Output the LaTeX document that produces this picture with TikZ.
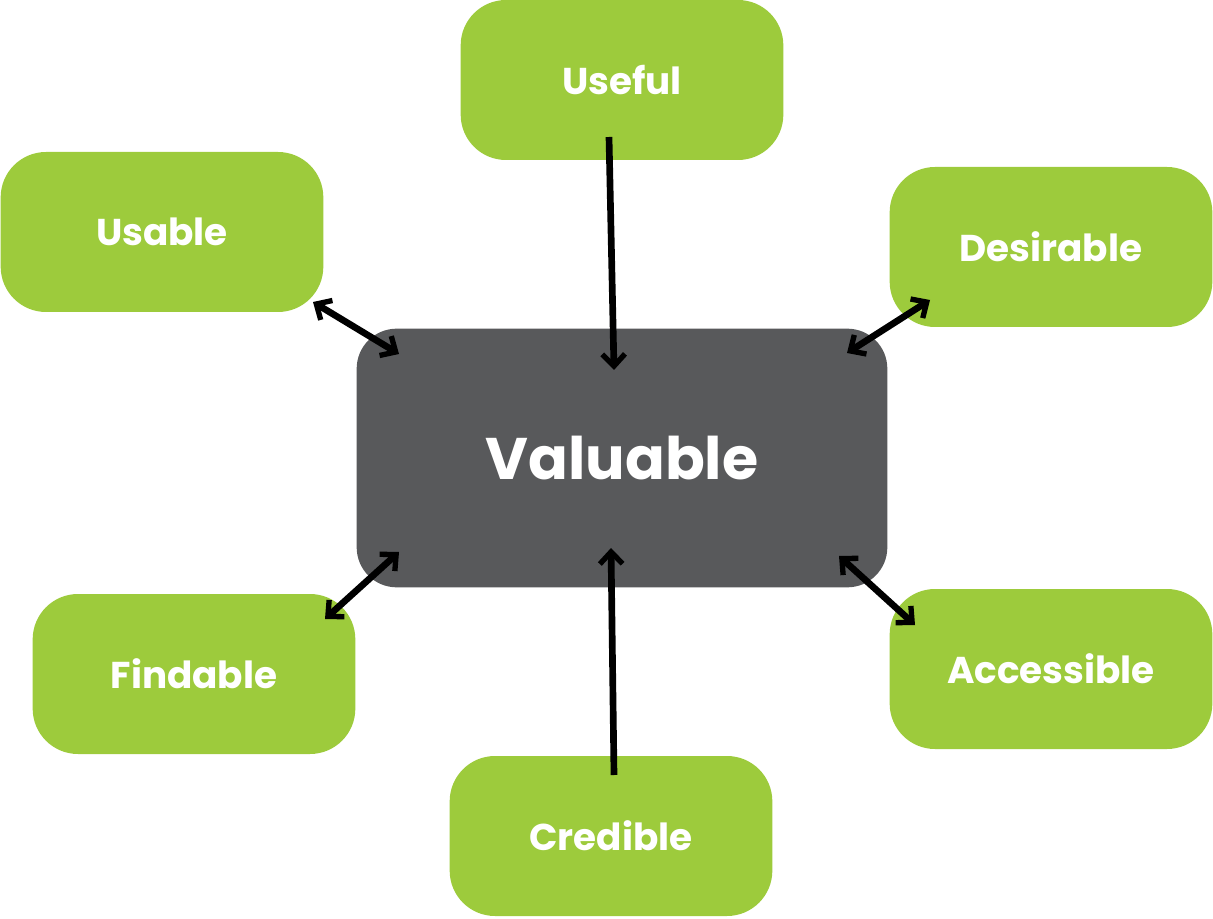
\documentclass[tikz,border=0pt]{standalone}
\usepackage{fontspec}
\setmainfont{Poppins}
\usetikzlibrary{arrows.meta}
\definecolor{leaf}{HTML}{9DCB3C}
\definecolor{slate}{HTML}{58595B}
\tikzset{
  gbox/.style={fill=leaf, rounded corners=34pt, minimum width=242pt, minimum height=120pt, text=white, font=\bfseries\fontsize{28}{32}\selectfont, inner sep=0pt},
  vbox/.style={fill=slate, rounded corners=30pt, minimum width=398pt, minimum height=194pt, text=white, font=\bfseries\fontsize{44}{50}\selectfont, inner sep=0pt},
  conn/.style={line width=5pt, black, -{Straight Barb[length=9pt,width=17pt,line width=4pt]}},
  dconn/.style={conn, {Straight Barb[length=9pt,width=17pt,line width=4pt]}-{Straight Barb[length=9pt,width=17pt,line width=4pt]}}
}
\begin{document}
\begin{tikzpicture}[x=0.75pt,y=-0.75pt]
\useasboundingbox (0,0) rectangle (1213,919);
\node[gbox] (useful) at (622,80) {Useful};
\node[gbox] (usable) at (162,232) {Usable};
\node[gbox] (desirable) at (1051,247) {Desirable};
\node[vbox] (valuable) at (622,458) {Valuable};
\node[gbox] (findable) at (194,674) {Findable};
\node[gbox] (accessible) at (1051,669) {Accessible};
\node[gbox] (credible) at (611,836) {Credible};
\coordinate (u1) at (609,137); \coordinate (u2) at (614,370);
\coordinate (c1) at (614,775); \coordinate (c2) at (611,548);
\coordinate (a1) at (313,302); \coordinate (a2) at (399,354);
\coordinate (d1) at (930,300); \coordinate (d2) at (847,353);
\coordinate (f1) at (325,619); \coordinate (f2) at (399,552);
\coordinate (e1) at (915,625); \coordinate (e2) at (839,556);
\draw[conn] (u1) -- (u2);
\draw[conn] (c1) -- (c2);
\draw[dconn] (a1) -- (a2);
\draw[dconn] (d1) -- (d2);
\draw[dconn] (f1) -- (f2);
\draw[dconn] (e1) -- (e2);
\end{tikzpicture}
\end{document}
